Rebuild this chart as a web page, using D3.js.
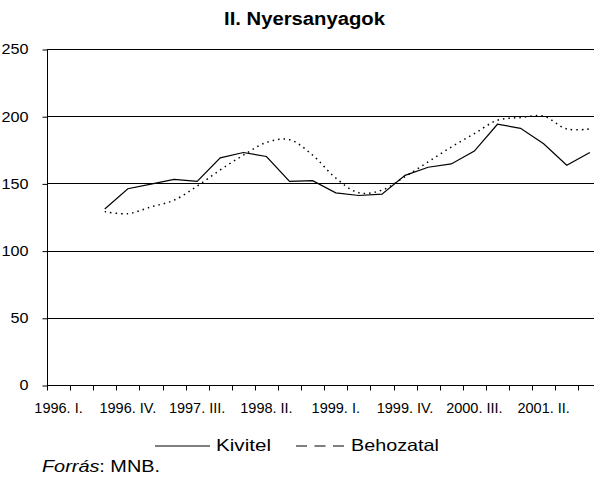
<!DOCTYPE html>
<html>
<head>
<meta charset="utf-8">
<script src="https://cdn.jsdelivr.net/npm/d3@7"></script>
<style>
  body { margin: 0; background: #fff; }
  svg { display: block; font-family: "Liberation Sans", Arial, sans-serif; }
</style>
</head>
<body>
<svg width="594" height="478"></svg>
<script>
var quarters = [];
["1996", "1997", "1998", "1999", "2000", "2001"].forEach(function(y) {
  ["I.", "II.", "III.", "IV."].forEach(function(q) { quarters.push(y + ". " + q); });
});
var tickLabels = ["1996. I.", "1996. IV.", "1997. III.", "1998. II.", "1999. I.", "1999. IV.", "2000. III.", "2001. II."];
var yTicks = [0, 50, 100, 150, 200, 250];

// 1996. III. - 2001. IV.
var kivitel = [131, 146, 149.5, 153, 151.5, 169, 173, 170, 151.5, 152, 143, 141, 142, 156, 162, 164.5, 174, 194, 191, 179.5, 163.5, 173];
var behozatal = [129, 127.5, 132.5, 137.5, 148, 160, 171, 180.5, 182.5, 171, 154, 143, 145, 155, 166, 177, 187, 197, 199, 200, 190.5, 190.5];

var svg = d3.select("svg"),
    mLeft = 47, mTop = 49, mBottom = 385,
    width = 24 * 23.1;

var x = d3.scaleBand().domain(quarters).range([mLeft, mLeft + width]);
var y = d3.scaleLinear().domain([0, 250]).range([mBottom, mTop]);

var startIdx = 2;
function pts(vals) {
  return vals.map(function(v, i) { return [quarters[i + startIdx], v]; });
}

// title
svg.append("text")
    .attr("x", 224).attr("y", 25)
    .attr("textLength", 161).attr("lengthAdjust", "spacingAndGlyphs")
    .style("font-weight", "bold").style("font-size", "18px")
    .text("II. Nyersanyagok");

// gridlines
svg.append("g").selectAll("line")
    .data(yTicks.filter(function(d) { return d > 0; }))
  .enter().append("line")
    .attr("x1", mLeft).attr("x2", 594)
    .attr("y1", function(d) { return Math.round(y(d)) + 0.5; })
    .attr("y2", function(d) { return Math.round(y(d)) + 0.5; })
    .attr("stroke", "#000").attr("stroke-width", 1);

// y axis
var yAxis = svg.append("g")
    .attr("transform", "translate(" + (mLeft + 0.5) + ",0.5)")
    .call(d3.axisLeft(y).tickValues(yTicks).tickSize(5).tickPadding(14));
yAxis.select(".domain").attr("d", "M0," + y(0) + "V" + y(250));
yAxis.selectAll("text")
    .style("font-size", "14px").attr("fill", "#000")
    .attr("textLength", function(d) { return String(d).length * 9; })
    .attr("lengthAdjust", "spacingAndGlyphs");

// x axis
var xAxis = svg.append("g")
    .attr("transform", "translate(0," + (mBottom + 0.5) + ")")
    .call(d3.axisBottom(x).tickSize(0)
      .tickFormat(function(d) { return tickLabels.indexOf(d) >= 0 ? d : ""; }));
xAxis.select(".domain").attr("d", "M" + mLeft + ",0H594");
xAxis.selectAll("text")
    .attr("y", 27).attr("dy", null)
    .style("font-size", "14.5px").attr("fill", "#000");
xAxis.selectAll(".xt")
    .data(quarters)
  .enter().append("line")
    .attr("class", "xt")
    .attr("x1", function(d) { return Math.round(x(d)) + 0.5; })
    .attr("x2", function(d) { return Math.round(x(d)) + 0.5; })
    .attr("y1", 0).attr("y2", 5)
    .attr("stroke", "#000");

var line = d3.line()
    .x(function(d) { return x(d[0]) + x.bandwidth() / 2; })
    .y(function(d) { return y(d[1]); });

svg.append("path")
    .datum(pts(behozatal))
    .attr("fill", "none").attr("stroke", "#000")
    .attr("stroke-width", 1.5).attr("stroke-dasharray", "1.5,4")
    .attr("d", line.curve(d3.curveCatmullRom.alpha(0.5)));

svg.append("path")
    .datum(pts(kivitel))
    .attr("fill", "none").attr("stroke", "#000")
    .attr("stroke-width", 1.2)
    .attr("d", line.curve(d3.curveLinear));

// legend
var lg = svg.append("g").style("font-size", "16.5px");
lg.append("line").attr("x1", 155).attr("x2", 210).attr("y1", 446).attr("y2", 446)
    .attr("stroke", "#000").attr("stroke-width", 1.2);
lg.append("text").attr("x", 216).attr("y", 451)
    .attr("textLength", 55).attr("lengthAdjust", "spacingAndGlyphs").text("Kivitel");
lg.append("line").attr("x1", 296).attr("x2", 344).attr("y1", 446).attr("y2", 446)
    .attr("stroke", "#000").attr("stroke-width", 1.2).attr("stroke-dasharray", "11,7.5");
lg.append("text").attr("x", 351).attr("y", 451)
    .attr("textLength", 88).attr("lengthAdjust", "spacingAndGlyphs").text("Behozatal");

var src = svg.append("text").attr("x", 42).attr("y", 472).style("font-size", "16.5px")
    .attr("textLength", 118).attr("lengthAdjust", "spacingAndGlyphs");
src.append("tspan").style("font-style", "italic").text("Forrás");
src.append("tspan").text(": MNB.");
</script>
</body>
</html>
